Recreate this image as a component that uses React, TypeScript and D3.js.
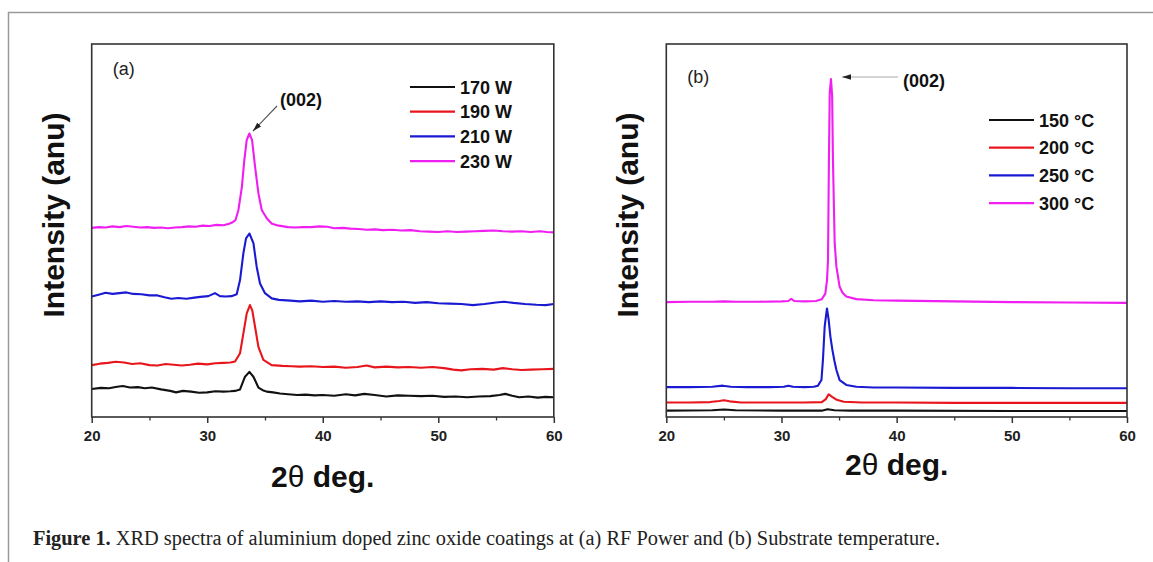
import React, { useRef, useEffect } from "react";
import * as d3 from "d3";

type Pt = [number, number];

// x axis ticks (2 theta, degrees)
const xTicks = [20, 30, 40, 50, 60];
const xMinorTicks = [25, 35, 45, 55];

// panel (a): RF power series, [2theta, intensity (a.u.)]
const powerLabels = ["170 W", "190 W", "210 W", "230 W"];
const power170: Pt[] = [
  [20, 7.5], [20.8, 7.8], [21.5, 7.7], [22.2, 8.1], [22.7, 8.3], [23.3, 7.9], [24, 8.0], [24.6, 7.7],
  [25.2, 7.9], [26, 7.4], [26.8, 7.0], [27.3, 6.6], [27.9, 7.0], [28.6, 6.8], [29.3, 6.5], [30, 6.6],
  [30.7, 6.9], [31.4, 6.8], [32, 6.9], [32.4, 7.0], [32.84, 7.4], [33.27, 10.8], [33.65, 12.1],
  [34.0, 10.8], [34.43, 7.9], [34.8, 7.2], [35.15, 6.8], [35.7, 6.6], [36.3, 6.3], [37, 6.1],
  [37.8, 5.9], [38.5, 6.0], [39.3, 5.8], [40, 5.9], [41, 5.7], [42, 6.1], [42.8, 5.8], [43.6, 6.2],
  [44.5, 5.9], [45.5, 5.5], [46.5, 5.8], [47.5, 5.7], [48.5, 5.6], [49.5, 5.7], [50.5, 5.4],
  [51.5, 5.5], [52.5, 5.3], [53.5, 5.5], [54.5, 5.6], [55.3, 5.9], [55.8, 6.2], [56.4, 5.7],
  [57, 5.3], [57.8, 5.5], [58.6, 5.2], [59.3, 5.4], [60, 5.3],
];
const power190: Pt[] = [
  [20, 13.9], [20.7, 14.3], [21.4, 14.5], [22.1, 14.8], [22.8, 14.6], [23.5, 14.2], [24.2, 14.4],
  [25, 13.9], [25.7, 13.8], [26.4, 14.2], [27.1, 14.0], [27.8, 13.8], [28.5, 14.0], [29.2, 14.3],
  [30, 14.1], [30.7, 14.4], [31.4, 14.5], [32, 14.6], [32.41, 14.9], [32.84, 17.1], [33.13, 22.4],
  [33.42, 27.8], [33.7, 30.0], [33.9, 28.6], [34.14, 24.2], [34.43, 18.8], [34.86, 15.3],
  [35.58, 13.9], [36.5, 13.7], [37.3, 13.6], [38, 13.5], [39, 13.6], [40, 13.4], [41, 13.5],
  [42, 13.2], [43, 13.4], [43.8, 13.8], [44.5, 13.3], [45.5, 13.5], [46.5, 13.3], [47.5, 13.4],
  [48.5, 13.2], [49.5, 13.4], [50.5, 13.1], [51.3, 12.7], [52, 12.5], [52.8, 12.8], [53.8, 12.9],
  [54.8, 12.7], [55.6, 13.1], [56.4, 12.8], [57.2, 12.6], [58, 12.7], [59, 12.8], [60, 12.9],
];
const power210: Pt[] = [
  [20, 32.3], [20.6, 32.8], [21.2, 33.3], [21.8, 33.0], [22.4, 33.2], [23, 33.4], [23.6, 33.0],
  [24.3, 32.9], [25, 32.6], [25.7, 32.6], [26.3, 32.1], [26.9, 31.7], [27.5, 31.9], [28.2, 31.7],
  [28.9, 32.0], [29.4, 32.2], [30.1, 32.4], [30.67, 33.2], [31.1, 32.4], [31.6, 32.3],
  [32.1, 32.4], [32.55, 32.9], [32.84, 36.7], [33.13, 43.9], [33.36, 47.9], [33.65, 49.2],
  [34.0, 46.6], [34.28, 40.3], [34.57, 35.8], [35.0, 33.2], [35.58, 31.8], [36.2, 31.4],
  [37.2, 31.2], [38, 31.0], [39, 31.2], [40, 30.9], [41, 31.1], [42, 30.9], [43, 31.0], [44, 30.8],
  [45, 31.0], [46, 30.8], [47, 30.9], [48, 30.6], [49, 30.8], [50, 30.5], [51, 30.4], [52, 30.3],
  [53, 30.0], [54, 30.3], [55, 30.7], [55.7, 30.9], [56.5, 30.6], [57.5, 30.3], [58.5, 30.1],
  [59.3, 30.0], [60, 30.3],
];
const power230: Pt[] = [
  [20, 50.7], [20.6, 50.9], [21.2, 50.8], [21.8, 51.1], [22.4, 50.9], [23, 51.2], [23.6, 51.0],
  [24.2, 50.8], [24.8, 50.9], [25.4, 50.7], [26, 50.8], [26.6, 50.6], [27.2, 50.8], [27.8, 50.9],
  [28.4, 51.1], [29, 51.0], [29.6, 51.3], [30.2, 51.2], [30.8, 51.5], [31.4, 51.4], [31.9, 51.8],
  [32.2, 52.2], [32.45, 52.8], [32.7, 55.5], [33.0, 61.7], [33.2, 68.5], [33.42, 74.3],
  [33.65, 76.0], [33.88, 74.3], [34.14, 67.1], [34.43, 60.0], [34.72, 55.5], [35.15, 53.3],
  [35.6, 51.8], [36.2, 51.3], [37, 50.9], [37.6, 50.8], [38.3, 50.9], [39, 50.9], [39.7, 51.1],
  [40.4, 51.0], [41, 50.6], [41.7, 50.7], [42.4, 50.5], [43.1, 50.4], [43.8, 50.2], [44.5, 50.3],
  [45.2, 50.1], [46, 50.2], [46.8, 50.0], [47.6, 50.1], [48.4, 49.8], [49.2, 49.7], [50, 49.6],
  [50.8, 49.8], [51.6, 49.6], [52.4, 49.7], [53.2, 49.8], [54, 49.9], [54.8, 50.0], [55.6, 49.8],
  [56.4, 49.7], [57.2, 49.8], [58, 49.6], [58.8, 49.8], [59.4, 49.6], [60, 49.5],
];

// panel (b): substrate temperature series
const tempLabels = ["150", "200", "250", "300"];
const temp150: Pt[] = [
  [20, 1.7], [24, 1.8], [25, 2.0], [26, 1.8], [30, 1.7], [33.5, 1.7], [34.0, 2.1], [34.6, 1.8],
  [36, 1.7], [40, 1.7], [50, 1.6], [60, 1.6],
];
const temp200: Pt[] = [
  [20, 3.9], [22, 3.9], [23.8, 4.0], [24.6, 4.3], [25, 4.5], [25.5, 4.2], [26.5, 3.9], [28, 3.9],
  [30, 3.9], [32, 3.9], [33.5, 4.0], [33.85, 4.8], [34.1, 6.1], [34.4, 5.4], [34.8, 4.6],
  [35.4, 4.1], [37, 3.9], [40, 3.9], [45, 3.8], [50, 3.8], [55, 3.8], [60, 3.8],
];
const temp250: Pt[] = [
  [20, 8.0], [22, 8.0], [24, 8.1], [24.9, 8.4], [25.6, 8.1], [27, 8.0], [29, 8.0], [30.2, 8.1],
  [30.6, 8.4], [31.0, 8.1], [32, 8.0], [32.8, 8.1], [33.17, 8.4], [33.47, 9.9], [33.6, 15.3],
  [33.75, 24.2], [33.95, 29.1], [34.1, 26.0], [34.25, 21.5], [34.42, 18.0], [34.6, 15.0],
  [34.77, 12.6], [35.05, 9.9], [35.63, 8.6], [36.5, 8.1], [38, 7.9], [40, 7.9], [45, 7.8],
  [50, 7.8], [55, 7.7], [60, 7.7],
];
const temp300: Pt[] = [
  [20, 30.8], [22, 30.9], [24, 30.9], [25, 31.0], [26, 30.9], [28, 30.9], [30, 31.0], [30.6, 31.1],
  [30.85, 31.7], [31.1, 31.1], [32, 31.0], [33, 31.1], [33.5, 31.6], [33.8, 33.0], [33.95, 36.5],
  [34.04, 42.1], [34.12, 68.9], [34.19, 86.9], [34.3, 90.6], [34.4, 86.0], [34.47, 68.9],
  [34.62, 46.6], [34.77, 40.3], [35.05, 34.9], [35.3, 33.3], [35.63, 32.3], [36.5, 31.6],
  [38, 31.3], [40, 31.2], [45, 31.0], [50, 30.8], [55, 30.7], [60, 30.6],
];

const colors = ["#111111", "#e8161c", "#1a1ad2", "#f01ef0"];

const TOP = 44;
const BOTTOM = 417;
const SANS = "'Liberation Sans', Arial, sans-serif";

const Panel = ({ id, left, right, tag, series, legend, annot, xLabelY }) => {
  const axisRef = useRef(null);
  const x = d3.scaleLinear().domain([20, 60]).range([left, right]);
  const y = d3.scaleLinear().domain([0, 100]).range([BOTTOM, TOP]);

  useEffect(() => {
    const g = d3.select(axisRef.current);
    g.selectAll("*").remove();

    // major ticks with labels
    const major = g
      .append("g")
      .call(
        d3.axisBottom(x).tickValues(xTicks).tickSize(6).tickSizeOuter(0).tickPadding(7.5).tickFormat(d3.format("d"))
      );
    major.select(".domain").remove();
    major.selectAll("line").attr("stroke", "#333").attr("stroke-width", 1.5);
    major
      .selectAll("text")
      .attr("fill", "#222")
      .style("font-family", SANS)
      .style("font-weight", "bold")
      .style("font-size", "15px");

    // minor ticks
    const minor = g
      .append("g")
      .call(d3.axisBottom(x).tickValues(xMinorTicks).tickSize(3.5).tickFormat(() => ""));
    minor.select(".domain").remove();
    minor.selectAll("line").attr("stroke", "#333").attr("stroke-width", 1.3);
  }, []);

  const line = d3
    .line<Pt>()
    .x((d) => x(d[0]))
    .y((d) => y(d[1]));

  return (
    <g>
      <defs>
        <marker id={"arrow-" + id} viewBox="0 0 10 6" refX="10" refY="3" markerWidth="9" markerHeight="6" orient="auto" markerUnits="userSpaceOnUse">
          <path d="M0,0 L10,3 L0,6 z" fill="#222" />
        </marker>
      </defs>

      {series.map((s, i) => (
        <path key={i} d={line(s)} fill="none" stroke={colors[i]} strokeWidth={2.1} strokeLinejoin="round" />
      ))}

      <rect x={left} y={TOP} width={right - left} height={BOTTOM - TOP} fill="none" stroke="#333" strokeWidth={1.6} />
      <g ref={axisRef} transform={`translate(0,${BOTTOM})`} />

      <text x={left + 21} y={tag.y} fontFamily={SANS} fontSize={18} fill="#222">
        {tag.text}
      </text>

      {/* (002) annotation */}
      <line x1={annot.x1} y1={annot.y1} x2={annot.x2} y2={annot.y2} stroke={annot.stroke} strokeWidth={1.1} markerEnd={`url(#arrow-${id})`} />
      <text x={annot.tx} y={annot.ty} fontFamily={SANS} fontWeight="bold" fontSize={18} fill="#111">
        (002)
      </text>

      {/* legend */}
      {legend.labels.map((lab, i) => (
        <g key={lab}>
          <line x1={legend.x} x2={legend.x + 45} y1={legend.y + i * legend.gap} y2={legend.y + i * legend.gap} stroke={colors[i]} strokeWidth={2.2} />
          <text x={legend.x + 50} y={legend.y + i * legend.gap + 6.5} fontFamily={SANS} fontWeight="bold" fontSize={18} fill="#111">
            {legend.suffix ? lab + " \u00B0C" : lab}
          </text>
        </g>
      ))}

      {/* axis titles */}
      <text x={(left + right) / 2} y={xLabelY} textAnchor="middle" fontFamily={SANS} fontWeight="bold" fontSize={30} fill="#111">
        2<tspan fontWeight="normal">θ</tspan> deg.
      </text>
      <text
        transform={`translate(${left - 28},215) rotate(-90)`}
        textAnchor="middle"
        fontFamily={SANS}
        fontWeight="bold"
        fontSize={30}
        fill="#111"
      >
        Intensity (anu)
      </text>
    </g>
  );
};

export default function App() {
  return (
    <svg width={1153} height={562} style={{ position: "absolute", left: 0, top: 0, background: "#fff" }}>
      <rect width={1153} height={562} fill="#fff" />
      <path d="M8.5,562 V12.5 H1153" fill="none" stroke="#9a9a9a" strokeWidth={1.5} />

      <Panel
        id="a"
        left={91.7}
        right={553.8}
        tag={{ text: "(a)", y: 75 }}
        series={[power170, power190, power210, power230]}
        legend={{ labels: powerLabels, x: 410, y: 87, gap: 24.7, suffix: false }}
        annot={{ x1: 277, y1: 106, x2: 253, y2: 131, stroke: "#555", tx: 280, ty: 105.5 }}
        xLabelY={487}
      />
      <Panel
        id="b"
        left={666.3}
        right={1127}
        tag={{ text: "(b)", y: 83 }}
        series={[temp150, temp200, temp250, temp300]}
        legend={{ labels: tempLabels, x: 989, y: 120, gap: 27.7, suffix: true }}
        annot={{ x1: 898, y1: 77, x2: 842, y2: 77, stroke: "#aaa", tx: 903, ty: 86.5 }}
        xLabelY={475}
      />

      <text x={33} y={545} fontFamily="'Liberation Serif', 'Times New Roman', serif" fontSize={20} fill="#222" textLength={907} lengthAdjust="spacingAndGlyphs">
        <tspan fontWeight="bold">Figure 1.</tspan> XRD spectra of aluminium doped zinc oxide coatings at (a) RF Power and (b)
        Substrate temperature.
      </text>
    </svg>
  );
}
